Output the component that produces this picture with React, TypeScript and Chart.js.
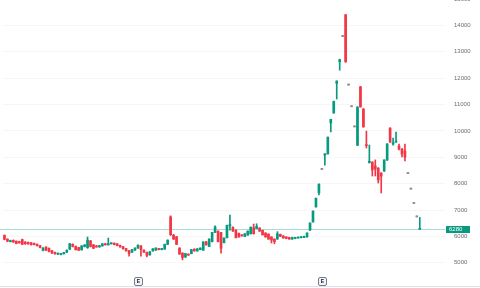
import { useEffect, useRef } from 'react';
import { Chart, registerables } from 'chart.js';

Chart.register(...registerables);

// Daily OHLC, oldest first
const opens = [
  6040, 5900, 5800, 5850, 5820, 5800, 5880, 5790, 5770, 5760,
  5740, 5700, 5650, 5470, 5600, 5550, 5460, 5400, 5330, 5320,
  5340, 5400, 5520, 5700, 5620, 5580, 5490, 5620, 5570, 5830,
  5680, 5640, 5600, 5640, 5720, 5680, 5720, 5740, 5720, 5660,
  5610, 5540, 5460, 5400, 5480, 5560, 5640, 5480, 5400, 5300,
  5450, 5480, 5540, 5500, 5520, 5700, 6740, 6050, 5990, 5560,
  5370, 5220, 5330, 5350, 5520, 5450, 5500, 5480, 5800, 5620,
  5800, 6150, 6200, 6150, 5760, 5950, 6400, 6350, 6240, 6120,
  6060, 6000, 6050, 6100, 6330, 6300, 6320, 6230, 6130, 6090,
  5980, 5900, 5900, 6080, 6020, 5980, 5960, 5900, 5920, 5940,
  5950, 5960, 5980, 6240, 6550, 7120, 7650, 8540, 9080, 9130,
  10300, 10680, 11800, 12620, 13580, 14400, 11737, 10915, 10151, 9460,
  11670, 10830, 9460, 8800, 8820, 8670, 8590, 8400, 8480, 8896,
  10110, 9500, 9580, 9427, 9313, 9238, 8380, 7793, 7248, 6740,
  6270,
];
const highs = [
  6060, 5910, 5860, 5870, 5830, 5820, 5900, 5800, 5790, 5770,
  5750, 5720, 5660, 5580, 5610, 5570, 5470, 5410, 5370, 5350,
  5400, 5490, 5740, 5720, 5640, 5590, 5650, 5690, 5980, 5850,
  5700, 5660, 5660, 5730, 5740, 5940, 5760, 5760, 5730, 5670,
  5620, 5550, 5470, 5510, 5570, 5680, 5650, 5490, 5410, 5430,
  5540, 5570, 5550, 5550, 5710, 5870, 6780, 6080, 6000, 5570,
  5380, 5360, 5340, 5510, 5530, 5540, 5570, 5800, 5810, 5910,
  6160, 6400, 6210, 6160, 5950, 6430, 6810, 6360, 6250, 6130,
  6070, 6110, 6210, 6360, 6470, 6480, 6330, 6240, 6140, 6100,
  5990, 5910, 6180, 6090, 6030, 5990, 5970, 5970, 5970, 5980,
  5990, 6010, 6140, 6520, 6970, 7450, 7990, 8540, 9138, 9770,
  10443, 11130, 11898, 12720, 13580, 14420, 11737, 10915, 10151, 10920,
  11690, 10850, 9990, 9465, 8830, 8900, 8610, 8420, 8910, 9520,
  10120, 9730, 9958, 9503, 9330, 9503, 8380, 7793, 7248, 6740,
  6720,
];
const lows = [
  5870, 5800, 5790, 5770, 5720, 5740, 5690, 5700, 5700, 5670,
  5680, 5630, 5560, 5450, 5460, 5410, 5350, 5320, 5310, 5300,
  5330, 5390, 5500, 5600, 5480, 5460, 5480, 5600, 5550, 5600,
  5540, 5590, 5590, 5630, 5670, 5670, 5710, 5680, 5640, 5590,
  5520, 5440, 5250, 5390, 5470, 5550, 5250, 5390, 5220, 5290,
  5440, 5470, 5490, 5490, 5510, 5690, 6040, 5880, 5690, 5320,
  5110, 5200, 5280, 5340, 5440, 5440, 5490, 5470, 5670, 5610,
  5790, 6140, 5790, 5370, 5750, 5940, 6240, 6190, 5940, 5970,
  6010, 5990, 6040, 6090, 6090, 6290, 6190, 6050, 5970, 5890,
  5750, 5720, 5890, 5990, 5930, 5910, 5890, 5890, 5910, 5930,
  5940, 5950, 5970, 6230, 6540, 7110, 7570, 8540, 8700, 9120,
  9960, 10670, 11208, 12300, 13580, 12600, 11737, 10915, 10151, 9440,
  10900, 10140, 9350, 8780, 8290, 8290, 8025, 7646, 8460, 8880,
  9560, 9460, 9560, 9276, 9010, 8858, 8380, 7793, 7248, 6740,
  6268,
];
const closes = [
  5890, 5820, 5840, 5790, 5730, 5760, 5700, 5720, 5720, 5690,
  5690, 5650, 5580, 5560, 5480, 5430, 5380, 5350, 5360, 5340,
  5390, 5480, 5720, 5620, 5500, 5480, 5640, 5680, 5860, 5620,
  5550, 5600, 5650, 5720, 5680, 5730, 5740, 5690, 5650, 5600,
  5530, 5450, 5350, 5500, 5560, 5670, 5500, 5400, 5280, 5420,
  5530, 5560, 5500, 5540, 5700, 5860, 6060, 5900, 5700, 5330,
  5200, 5350, 5290, 5500, 5450, 5530, 5560, 5790, 5680, 5900,
  6150, 6360, 5800, 5550, 5940, 6420, 6450, 6200, 5950, 5980,
  6020, 6100, 6200, 6350, 6100, 6380, 6200, 6060, 5980, 5900,
  5860, 5800, 6100, 6000, 5940, 5920, 5900, 5960, 5960, 5970,
  5980, 6000, 6130, 6510, 6960, 7450, 7980, 8540, 9130, 9760,
  10440, 11120, 11890, 12700, 13580, 12620, 11737, 10915, 10151, 10900,
  10910, 10150, 9440, 8850, 8520, 8555, 8140, 8290, 8896, 9503,
  9580, 9560, 9617, 9313, 9124, 9010, 8380, 7793, 7248, 6740,
  6280,
];

const rightOffsetSlots = 8;
const categories = [
  ...opens.map((_, i) => `D${i + 1}`),
  ...Array.from({ length: rightOffsetSlots }, (_, k) => `+${k + 1}`),
];
const priceTicks = [5000, 6000, 7000, 8000, 9000, 10000, 11000, 12000, 13000, 14000, 15000];
const earningsAt = [45, 107];
const lastPrice = closes[closes.length - 1];

const UP = '#089981';
const DOWN = '#F23645';
const FLAT = '#8a8d96';

function candleColor(i: number) {
  if (closes[i] > opens[i]) return UP;
  if (closes[i] < opens[i]) return DOWN;
  return FLAT;
}

const overlay = {
  id: 'overlay',
  beforeDatasetsDraw(chart: any) {
    const { ctx, chartArea, scales } = chart;
    const y = Math.round(scales.y.getPixelForValue(lastPrice)) + 0.5;
    ctx.save();
    ctx.strokeStyle = 'rgba(8,153,129,0.35)';
    ctx.lineWidth = 1;
    ctx.beginPath();
    ctx.moveTo(0, y);
    ctx.lineTo(chartArea.right, y);
    ctx.stroke();
    ctx.restore();
  },
  afterDraw(chart: any) {
    const { ctx, chartArea, scales } = chart;
    const y = scales.y.getPixelForValue(lastPrice);
    ctx.save();
    // last price label
    ctx.fillStyle = UP;
    ctx.fillRect(chartArea.right + 1, Math.round(y) - 3, 24, 7);
    ctx.fillStyle = '#ffffff';
    ctx.font = '6px "Liberation Sans"';
    ctx.textBaseline = 'middle';
    ctx.textAlign = 'left';
    ctx.fillText(String(lastPrice), chartArea.right + 4, Math.round(y) + 0.5);
    // bottom border
    ctx.strokeStyle = '#e0e3eb';
    ctx.beginPath();
    ctx.moveTo(0, 292.5);
    ctx.lineTo(480, 292.5);
    ctx.stroke();
    // earnings markers
    earningsAt.forEach((idx) => {
      const x = Math.round(scales.x.getPixelForValue(idx));
      const cy = 287;
      ctx.beginPath();
      ctx.roundRect(x - 3.5, cy - 3.5, 8, 8, 1.5);
      ctx.fillStyle = '#f0f3fa';
      ctx.fill();
      ctx.strokeStyle = '#787b86';
      ctx.lineWidth = 1;
      ctx.stroke();
      ctx.fillStyle = '#131722';
      ctx.font = 'bold 5px "Liberation Sans"';
      ctx.textAlign = 'center';
      ctx.textBaseline = 'middle';
      ctx.fillText('E', x + 0.5, cy + 0.8);
    });
    ctx.restore();
  },
};

export default function App() {
  const ref = useRef<HTMLCanvasElement | null>(null);
  useEffect(() => {
    document.body.style.margin = '0';
    const colors = opens.map((_, i) => candleColor(i));
    const chart = new Chart(ref.current!, {
      type: 'bar',
      data: {
        labels: categories,
        datasets: [
          {
            label: 'body',
            data: opens.map((o, i) => [o, closes[i]]) as any,
            backgroundColor: colors,
            barThickness: 2,
            minBarLength: 1,
            grouped: false,
            borderWidth: 0,
          } as any,
          {
            label: 'wick',
            data: lows.map((l, i) => [l, highs[i]]) as any,
            backgroundColor: colors,
            barThickness: 1,
            minBarLength: 1,
            grouped: false,
            borderWidth: 0,
          } as any,
        ],
      },
      options: {
        animation: false,
        responsive: false,
        devicePixelRatio: 1,
        layout: { padding: { left: 3, top: 5, right: 0, bottom: 14 } },
        plugins: { legend: { display: false }, tooltip: { enabled: false } },
        scales: {
          x: { type: 'category', display: false, offset: true, grid: { display: false } },
          y: {
            type: 'linear',
            position: 'right',
            min: 4500,
            max: 15000,
            afterBuildTicks: (s: any) => {
              s.ticks = priceTicks.map((v) => ({ value: v }));
            },
            afterFit: (s: any) => {
              s.width = 35;
            },
            grid: {
              color: 'rgba(42,46,57,0.045)',
              drawTicks: true,
              tickLength: 9,
              tickColor: 'rgba(0,0,0,0)',
            },
            border: { display: false },
            ticks: {
              padding: 0,
              color: '#6a6d78',
              font: { size: 6, family: '"Liberation Sans"' },
              callback: (v: any) => String(v),
            },
          },
        },
      } as any,
      plugins: [overlay],
    });
    return () => chart.destroy();
  }, []);
  return (
    <div style={{ position: 'relative', width: 480, height: 288, overflow: 'hidden', background: '#fff' }}>
      <canvas ref={ref} width={480} height={296} style={{ position: 'absolute', left: 0, top: -6 }} />
    </div>
  );
}
